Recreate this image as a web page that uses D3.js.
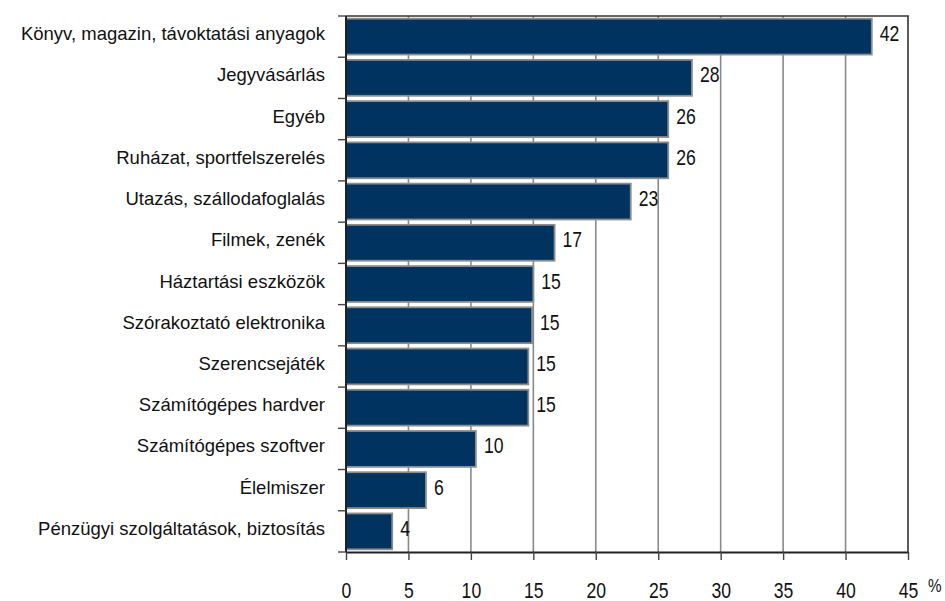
<!DOCTYPE html>
<html>
<head>
<meta charset="utf-8">
<script src="https://cdn.jsdelivr.net/npm/d3@7.9.0/dist/d3.min.js"></script>
<style>
  body { margin: 0; background: #fff; }
  svg { display: block; }
  text { font-family: "Liberation Sans", Arial, sans-serif; fill: #111; }
</style>
</head>
<body>
<svg id="chart" width="945" height="601"></svg>
<script>
// categories top to bottom
const categories = [
  "Könyv, magazin, távoktatási anyagok",
  "Jegyvásárlás",
  "Egyéb",
  "Ruházat, sportfelszerelés",
  "Utazás, szállodafoglalás",
  "Filmek, zenék",
  "Háztartási eszközök",
  "Szórakoztató elektronika",
  "Szerencsejáték",
  "Számítógépes hardver",
  "Számítógépes szoftver",
  "Élelmiszer",
  "Pénzügyi szolgáltatások, biztosítás"
];
// bar lengths
const values = [42.1, 27.7, 25.8, 25.8, 22.8, 16.7, 15.0, 14.9, 14.6, 14.6, 10.4, 6.4, 3.7];
// printed labels
const valueLabels = ["42", "28", "26", "26", "23", "17", "15", "15", "15", "15", "10", "6", "4"];
const xTicks = [0, 5, 10, 15, 20, 25, 30, 35, 40, 45];

const svg = d3.select('#chart');
const plotLeft = 346, plotRight = 908, plotTop = 16, plotBottom = 552;
const narrow = 0.8; // squeeze numbers horizontally, no narrow font installed

let x = d3.scaleLinear().domain([0, 45]).range([plotLeft, plotRight]);
let y = d3.scaleBand().domain(categories).range([plotTop, plotBottom])
  .paddingInner(0.13).paddingOuter(0.065);

// vertical gridlines
svg.append('g').selectAll('line')
  .data(xTicks.slice(1, -1))
  .enter().append('line')
  .attr('x1', d => x(d)).attr('x2', d => x(d))
  .attr('y1', plotTop).attr('y2', plotBottom)
  .attr('stroke', '#8a8a8a').attr('stroke-width', 1.6);

// bars
svg.append('g').selectAll('rect')
  .data(values)
  .enter().append('rect')
  .attr('x', x(0))
  .attr('y', (d, i) => y(categories[i]))
  .attr('width', d => x(d) - x(0))
  .attr('height', y.bandwidth())
  .attr('fill', '#00335f')
  .attr('stroke', '#8c8c8c')
  .attr('stroke-width', 1.8);

// frame (top + right)
svg.append('path')
  .attr('d', `M${plotLeft},${plotTop}H${plotRight}V${plotBottom}`)
  .attr('fill', 'none').attr('stroke', '#333').attr('stroke-width', 1.6);

// x axis
let xAxis = svg.append('g')
  .attr('transform', `translate(0,${plotBottom})`)
  .call(d3.axisBottom(x).tickValues(xTicks).tickSize(8).tickPadding(22).tickSizeOuter(0));
xAxis.select('.domain').attr('stroke', '#222').attr('stroke-width', 2);
xAxis.selectAll('.tick line').attr('stroke', '#444').attr('stroke-width', 1.4);
xAxis.selectAll('.tick text')
  .attr('font-size', 22).attr('fill', '#111')
  .attr('transform', `scale(${narrow},1)`)
  .style('font-family', '"Liberation Sans", Arial, sans-serif');

svg.append('text')
  .attr('transform', `translate(928,592) scale(${narrow},1)`)
  .attr('font-size', 19)
  .text('%');

// y axis line and ticks at band boundaries
svg.append('line')
  .attr('x1', plotLeft).attr('x2', plotLeft).attr('y1', plotTop).attr('y2', plotBottom)
  .attr('stroke', '#222').attr('stroke-width', 2);
svg.append('g').selectAll('line')
  .data(d3.range(categories.length + 1))
  .enter().append('line')
  .attr('x1', plotLeft - 8).attr('x2', plotLeft)
  .attr('y1', i => plotTop + i * y.step()).attr('y2', i => plotTop + i * y.step())
  .attr('stroke', '#444').attr('stroke-width', 1.4);

// category labels
svg.append('g').selectAll('text')
  .data(categories)
  .enter().append('text')
  .attr('x', plotLeft - 21)
  .attr('y', d => y(d) + y.bandwidth() / 2 + 3.5)
  .attr('text-anchor', 'end')
  .attr('font-size', 18.5)
  .text(d => d);

// value labels
svg.append('g').selectAll('text')
  .data(values)
  .enter().append('text')
  .attr('transform', (d, i) =>
    `translate(${x(d) + 8},${y(categories[i]) + y.bandwidth() / 2 + 4.5}) scale(${narrow},1)`)
  .attr('font-size', 22)
  .text((d, i) => valueLabels[i]);
</script>
</body>
</html>
